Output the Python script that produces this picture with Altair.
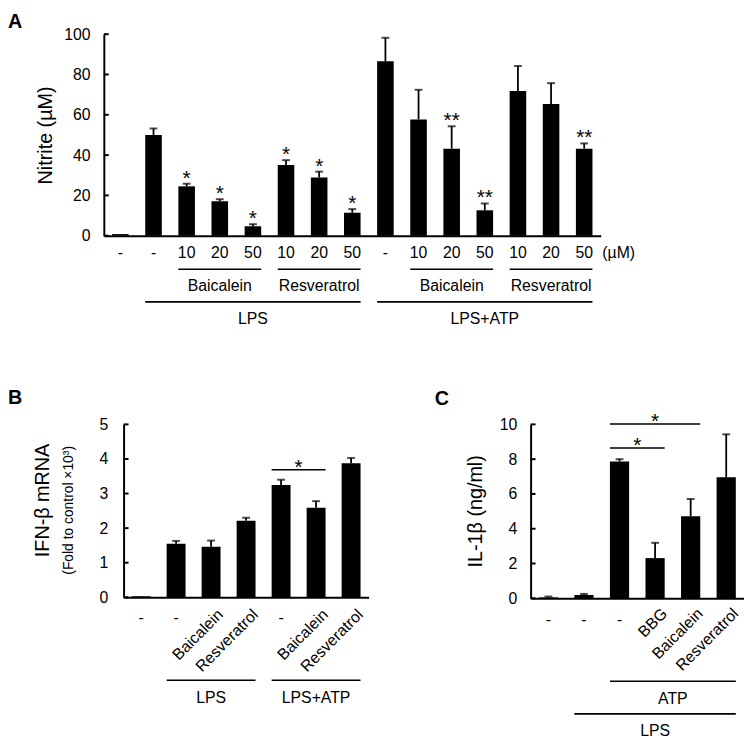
import altair as alt
import pandas as pd

FONT = "Liberation Sans"

# ---------------- Panel A : Nitrite ----------------
a_ids = [f"a{i}" for i in range(1, 16)]
a_labels = ["-", "-", "10", "20", "50", "10", "20", "50", "-", "10", "20", "50", "10", "20", "50"]
a_values = [0.8, 50.0, 24.5, 17.1, 4.7, 35.1, 28.9, 11.4, 86.6, 57.7, 43.2, 12.6, 71.8, 65.4, 43.2]
a_errors = [0.0, 3.2, 1.3, 1.0, 1.0, 2.4, 2.9, 1.8, 11.6, 14.7, 11.1, 3.4, 12.4, 10.3, 2.6]
a_stars = ["", "", "*", "*", "*", "*", "*", "*", "", "", "**", "**", "", "", "**"]
a_yticks = [0, 20, 40, 60, 80, 100]
a_title = "Nitrite (\u00b5M)"
# text, first bar, last bar, label bar, label between this bar and next?, level
a_groups = [
    ("Baicalein", "a3", "a5", "a4", False, 1),
    ("Resveratrol", "a6", "a8", "a7", False, 1),
    ("Baicalein", "a10", "a12", "a11", False, 1),
    ("Resveratrol", "a13", "a15", "a14", False, 1),
    ("LPS", "a2", "a8", "a5", False, 2),
    ("LPS+ATP", "a9", "a15", "a12", False, 2),
]
a_unit = "(\u00b5M)"

# ---------------- Panel B : IFN-beta mRNA ----------------
b_ids = [f"b{i}" for i in range(1, 8)]
b_labels = ["-", "-", "Baicalein", "Resveratrol", "-", "Baicalein", "Resveratrol"]
b_values = [0.03, 1.55, 1.46, 2.21, 3.25, 2.59, 3.88]
b_errors = [0.0, 0.08, 0.18, 0.09, 0.15, 0.19, 0.15]
b_yticks = [0, 1, 2, 3, 4, 5]
b_groups = [
    ("LPS", "b2", "b4", "b3", False, 1),
    ("LPS+ATP", "b5", "b7", "b6", False, 1),
]
# first bar, last bar, y, star bar, star between this bar and next?
b_brackets = [("b5", "b6", 3.69, "b5", True)]

# ---------------- Panel C : IL-1beta ----------------
c_ids = [f"c{i}" for i in range(1, 7)]
c_labels = ["-", "-", "-", "BBG", "Baicalein", "Resveratrol"]
c_values = [0.05, 0.19, 7.87, 2.31, 4.72, 6.96]
c_errors = [0.05, 0.06, 0.13, 0.88, 0.99, 2.47]
c_yticks = [0, 2, 4, 6, 8, 10]
c_groups = [
    ("ATP", "c3", "c6", "c4", True, 1),
    ("LPS", "c2", "c6", "c4", False, 2),
]
c_brackets = [("c3", "c4", 8.64, "c3", True), ("c3", "c5", 10.02, "c4", False)]


def panel(ids, labels, values, errors, stars, yticks, ymax, width, height, pin,
          groups, brackets, rotate, level_y, tick_y, rot_y, label_pad,
          letter, letter_xy, titles, star_dy_br=4, unit=None, axis_title=None,
          title_pad=8, shift=0):
    # shift: the plot's axis sits `shift` px left of the view origin
    xs = alt.Scale(domain=ids, paddingInner=pin, paddingOuter=pin / 2,
                   range=[-shift, width - shift])
    ys = alt.Scale(domain=[0, ymax], nice=False, zero=True)
    xax = alt.Axis(labels=False, ticks=False, domainColor="black", domainWidth=2,
                   grid=False, title=None)
    yargs = dict(values=yticks, ticks=False, labelPadding=label_pad, labelFontSize=16,
                 labelColor="black", labelFont=FONT, domainColor="black",
                 domainWidth=2, grid=False, offset=shift)
    if axis_title:
        yax = alt.Axis(title=axis_title, titleFontSize=20, titleFont=FONT,
                       titleFontWeight="normal", titleColor="black",
                       titlePadding=title_pad, **yargs)
    else:
        yax = alt.Axis(title=None, **yargs)
    step = width / len(ids)
    gap = step * pin

    def X(field, bp=0.5):
        return alt.X(field, scale=xs, axis=xax, title=None, bandPosition=bp)

    def Y(field):
        return alt.Y(field, scale=ys, axis=yax)

    def xmid(field, between):
        if between:
            return X(field, 1), gap / 2
        return X(field, 0.5), 0

    df = pd.DataFrame({"id": ids, "label": labels, "v": values, "err": errors,
                       "star": stars if stars else [""] * len(ids)})
    df["top"] = df["v"] + df["err"]
    base = alt.Chart(df)

    layers = []
    layers.append(base.mark_bar(color="black").encode(x=X("id:N"), y=Y("v:Q")))
    errdf = base.transform_filter("datum.err > 0")
    layers.append(errdf.mark_rule(color="black", strokeWidth=1.8).encode(
        x=X("id:N"), y=Y("v:Q"), y2="top:Q"))
    layers.append(errdf.mark_tick(color="black", size=8, thickness=2,
                                  orient="horizontal").encode(x=X("id:N"), y=Y("top:Q")))
    if stars:
        layers.append(base.transform_filter("datum.star != ''").mark_text(
            fontSize=21, baseline="alphabetic", dy=1, color="black").encode(
            x=X("id:N"), y=Y("top:Q"), text="star:N"))
    # inward y ticks
    tdf = pd.DataFrame({"t": yticks})
    layers.append(alt.Chart(tdf).mark_rule(color="black", strokeWidth=2).encode(
        y=Y("t:Q"), x=alt.value(-shift), x2=alt.value(5 - shift)))
    # category labels
    if rotate:
        straight = base.transform_filter("datum.label == '-'")
        rot = base.transform_filter("datum.label != '-'")
        layers.append(rot.mark_text(fontSize=16, angle=315, align="right",
                                    baseline="middle", color="black").encode(
            x=X("id:N", 1), y=alt.value(height + rot_y), text="label:N"))
    else:
        straight = base
    layers.append(straight.mark_text(fontSize=16, baseline="middle", color="black").encode(
        x=X("id:N"), y=alt.value(height + tick_y), text="label:N"))
    if unit:
        udf = pd.DataFrame({"id": [ids[-1]], "u": [unit]})
        layers.append(alt.Chart(udf).mark_text(fontSize=16, baseline="middle",
                                               align="left", dx=10, color="black").encode(
            x=X("id:N", 1), y=alt.value(height + tick_y), text="u:N"))
    # group lines and labels
    for text, f, t, c, between, lvl in groups:
        gdf = pd.DataFrame({"f": [f], "t": [t], "c": [c], "text": [text]})
        ly, ty = level_y[lvl]
        layers.append(alt.Chart(gdf).mark_rule(color="black", strokeWidth=1.6).encode(
            x=X("f:N", 0), x2=alt.X2("t:N", bandPosition=1), y=alt.value(height + ly)))
        xe, dx = xmid("c:N", between)
        layers.append(alt.Chart(gdf).mark_text(fontSize=16, baseline="middle", dx=dx,
                                               color="black").encode(
            x=xe, y=alt.value(height + ty), text="text:N"))
    # significance brackets
    for f, t, yv, sc, between in brackets:
        bdf = pd.DataFrame({"f": [f], "t": [t], "c": [sc], "y": [yv], "s": ["*"]})
        layers.append(alt.Chart(bdf).mark_rule(color="black", strokeWidth=1.6).encode(
            x=X("f:N", 0), x2=alt.X2("t:N", bandPosition=1), y=Y("y:Q")))
        xe, dx = xmid("c:N", between)
        layers.append(alt.Chart(bdf).mark_text(fontSize=21, baseline="alphabetic",
                                               dy=star_dy_br, dx=dx, color="black").encode(
            x=xe, y=Y("y:Q"), text="s:N"))
    # y titles drawn as text
    for text, tx, ty, fs in titles:
        tdf2 = pd.DataFrame({"s": [text]})
        layers.append(alt.Chart(tdf2).mark_text(fontSize=fs, angle=270, align="center",
                                                baseline="middle", color="black").encode(
            x=alt.value(tx), y=alt.value(ty), text="s:N"))
    # panel letter
    ldf = pd.DataFrame({"s": [letter]})
    layers.append(alt.Chart(ldf).mark_text(fontSize=20, fontWeight="bold", align="left",
                                           baseline="top", color="black").encode(
        x=alt.value(letter_xy[0] - shift), y=alt.value(letter_xy[1]), text="s:N"))
    return alt.layer(*layers).properties(width=width - shift, height=height)


pA = panel(a_ids, a_labels, a_values, a_errors, a_stars, a_yticks, 100, 503, 204, 0.5,
           a_groups, [], False, {1: (34, 51), 2: (67, 84)}, 18, 0, 14,
           "A", (-97, -22), [], unit=a_unit, axis_title=a_title, title_pad=8, shift=20)

pB = panel(b_ids, b_labels, b_values, b_errors, None, b_yticks, 5, 248, 175, 0.46,
           b_groups, b_brackets, True, {1: (84, 102)}, 21, 15, 16,
           "B", (-117, -37),
           [("IFN-\u03b2 mRNA", -81, 77, 20), ("(Fold to control \u00d710\u00b3)", -55, 87, 14)])

pC = panel(c_ids, c_labels, c_values, c_errors, None, c_yticks, 10, 216, 176, 0.46,
           c_groups, c_brackets, True, {1: (84, 102), 2: (117, 134)}, 22, 13, 14,
           "C", (-97, -36), [("IL-1\u03b2 (ng/ml)", -55, 88, 20)])

chart = (
    alt.vconcat(pA, alt.hconcat(pB, pC, spacing=67), spacing=62)
    .properties(padding=0)
    .configure_view(strokeWidth=0)
    .configure_text(font=FONT)
    .configure_axis(labelFont=FONT)
)

chart.save("out.html", embed_options={"renderer": "svg", "actions": False})
